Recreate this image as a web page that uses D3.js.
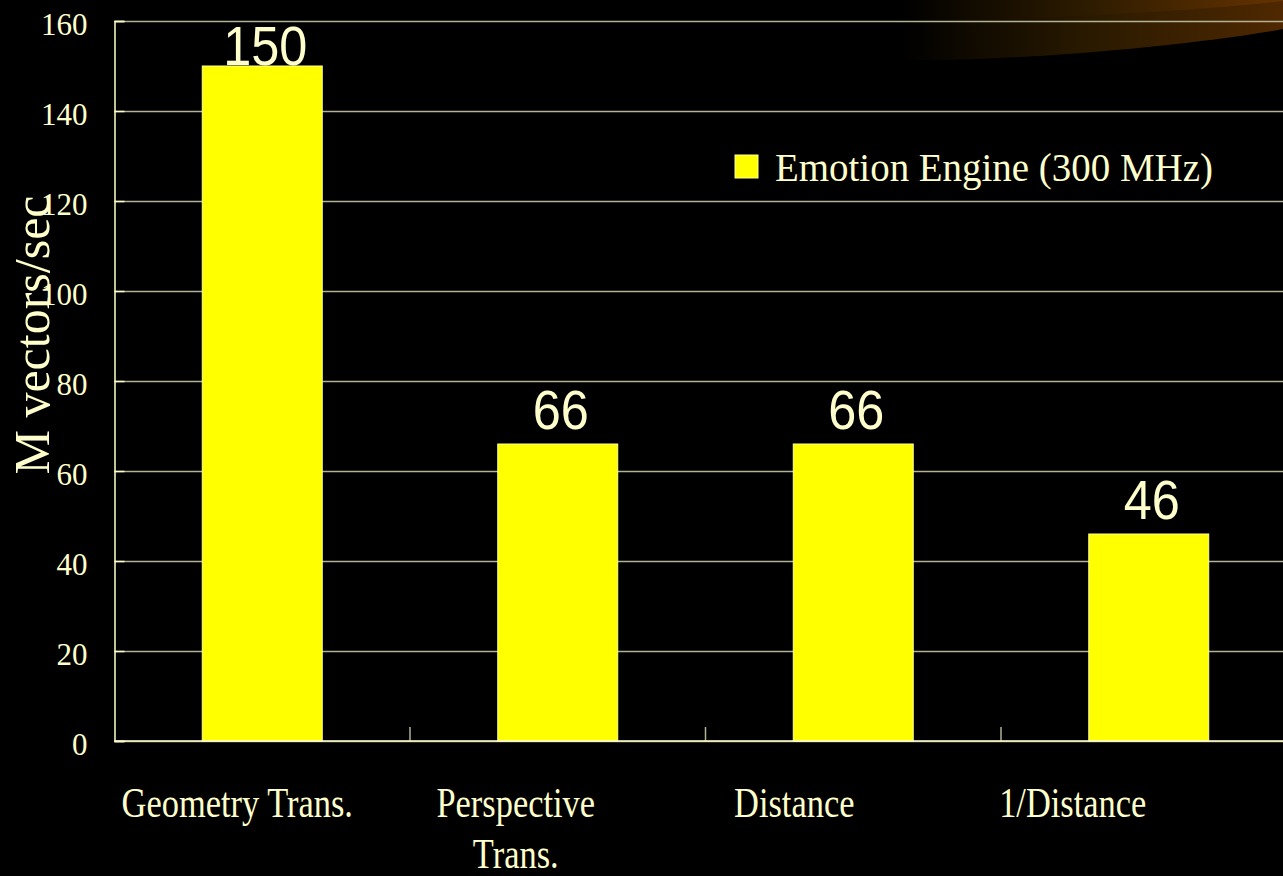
<!DOCTYPE html>
<html>
<head>
<meta charset="utf-8">
<script src="https://cdn.jsdelivr.net/npm/d3@7"></script>
<style>
	html, body { margin: 0; padding: 0; background: #000; overflow: hidden; }
</style>
</head>
<body>
<div id="chart"></div>
<script>
// chart data
var categories = ["Geometry Trans.", "Perspective Trans.", "Distance", "1/Distance"];
var labelLines = [["Geometry Trans."], ["Perspective", "Trans."], ["Distance"], ["1/Distance"]];
var values = [150, 66, 66, 46];
var yTicks = [0, 20, 40, 60, 80, 100, 120, 140, 160];
var seriesName = "Emotion Engine (300 MHz)";
var yTitle = "M vectors/sec";

drawchart()

function drawchart() {
	var W = 1283, H = 876;
	var left = 114.5, top = 21, bottom = 741;
	var step = 295.5;
	var cream = "#ffffcc";
	var grid = "#b2b294";

	var svg = d3.select("#chart")
		.append("svg")
		.attr("width", W)
		.attr("height", H)
		.style("display", "block")
		.style("background", "#000");

	// orange glow top right
	var defs = svg.append("defs");
	var g1 = defs.append("linearGradient")
		.attr("id", "glowOuter")
		.attr("gradientUnits", "userSpaceOnUse")
		.attr("x1", 900).attr("x2", 1283).attr("y1", 0).attr("y2", 0);
	g1.append("stop").attr("offset", 0).attr("stop-color", "#000");
	g1.append("stop").attr("offset", 0.5).attr("stop-color", "#2a1a00");
	g1.append("stop").attr("offset", 1).attr("stop-color", "#4f2800");
	var g2 = defs.append("linearGradient")
		.attr("id", "glowInner")
		.attr("gradientUnits", "userSpaceOnUse")
		.attr("x1", 900).attr("x2", 1283).attr("y1", 0).attr("y2", 0);
	g2.append("stop").attr("offset", 0).attr("stop-color", "#000");
	g2.append("stop").attr("offset", 0.5).attr("stop-color", "#2e1c00");
	g2.append("stop").attr("offset", 1).attr("stop-color", "#663300");

	svg.append("path")
		.attr("d", "M900,0 L1283,0 L1283,29 C1200,44 1060,57 950,60 L900,60 Z")
		.attr("fill", "url(#glowOuter)");
	svg.append("path")
		.attr("d", "M900,0 L1283,0 L1283,1 C1220,9 1080,17 960,21 L900,22 Z")
		.attr("fill", "url(#glowInner)");

	// scales
	var y = d3.scaleLinear()
		.domain([0, 160])
		.range([bottom, top]);
	var x = d3.scaleBand()
		.domain(categories)
		.range([left, left + step * categories.length])
		.paddingInner(0.594)
		.paddingOuter(0.297);
	var xl = d3.scaleBand()
		.domain(categories)
		.range([98, 1212]);

	// gridlines
	var gridG = svg.append("g")
		.attr("transform", `translate(${left},0)`)
		.call(d3.axisLeft(y).tickValues(yTicks).tickSize(-(W - left)).tickFormat(""));
	gridG.select(".domain").remove();
	gridG.selectAll("line")
		.attr("stroke", grid)
		.attr("stroke-width", 1.5);

	// x axis ticks (category boundaries)
	svg.append("g")
		.selectAll("line")
		.data(categories.slice(1))
		.join("line")
		.attr("x1", d => x(d) - x.step() * x.paddingOuter())
		.attr("x2", d => x(d) - x.step() * x.paddingOuter())
		.attr("y1", bottom)
		.attr("y2", bottom - 14)
		.attr("stroke", grid)
		.attr("stroke-width", 1.5);

	// bars
	svg.append("g")
		.selectAll("rect")
		.data(values)
		.join("rect")
		.attr("x", (d, i) => x(categories[i]))
		.attr("y", d => y(d))
		.attr("width", x.bandwidth())
		.attr("height", d => bottom - y(d))
		.attr("fill", "#ffff00")
		.attr("stroke", "#ffff99")
		.attr("stroke-width", 1);

	// y axis
	var yAxis = svg.append("g")
		.attr("transform", `translate(${left},0)`)
		.call(d3.axisLeft(y).tickValues(yTicks).tickSize(-10).tickPadding(27));
	yAxis.select(".domain").attr("stroke", cream).attr("stroke-width", 1.5);
	yAxis.selectAll("line").attr("stroke", cream).attr("stroke-width", 1.5);
	yAxis.selectAll("text")
		.attr("fill", cream)
		.attr("dy", "0.42em")
		.style("font-family", "Liberation Serif")
		.style("font-size", "31px");

	// x axis line
	svg.append("line")
		.attr("x1", left).attr("x2", W)
		.attr("y1", bottom).attr("y2", bottom)
		.attr("stroke", cream)
		.attr("stroke-width", 1.5);

	// value labels
	svg.append("g")
		.selectAll("text")
		.data(values)
		.join("text")
		.attr("transform", (d, i) => `translate(${x(categories[i]) + x.bandwidth() / 2 + 3},${Math.max(y(d) - 15, top + 44)}) scale(0.9,1)`)
		.attr("text-anchor", "middle")
		.attr("fill", cream)
		.style("font-family", "Liberation Sans")
		.style("font-size", "56px")
		.text(d => d);

	// category labels
	var lab = svg.append("g")
		.selectAll("g")
		.data(categories)
		.join("g")
		.attr("transform", d => `translate(${xl(d) + xl.bandwidth() / 2},817)`);
	lab.each(function(d, i) {
		d3.select(this).selectAll("text")
			.data(labelLines[i])
			.join("text")
			.attr("transform", (t, j) => `translate(0,${j * 51}) scale(0.82,1)`)
			.attr("text-anchor", "middle")
			.attr("fill", cream)
			.style("font-family", "Liberation Serif")
			.style("font-size", "42px")
			.text(t => t);
	});

	// y title
	svg.append("text")
		.attr("transform", "translate(49,335) rotate(-90)")
		.attr("text-anchor", "middle")
		.attr("fill", cream)
		.style("font-family", "Liberation Serif")
		.style("font-size", "50px")
		.text(yTitle);

	// legend
	var legend = svg.append("g")
		.attr("transform", "translate(735,155)");
	legend.append("rect")
		.attr("width", 23)
		.attr("height", 23)
		.attr("fill", "#ffff00")
		.attr("stroke", "#ffff99")
		.attr("stroke-width", 1);
	legend.append("text")
		.attr("transform", "translate(40,26) scale(0.95,1)")
		.attr("fill", cream)
		.style("font-family", "Liberation Serif")
		.style("font-size", "41px")
		.text(seriesName);
}
</script>
</body>
</html>
